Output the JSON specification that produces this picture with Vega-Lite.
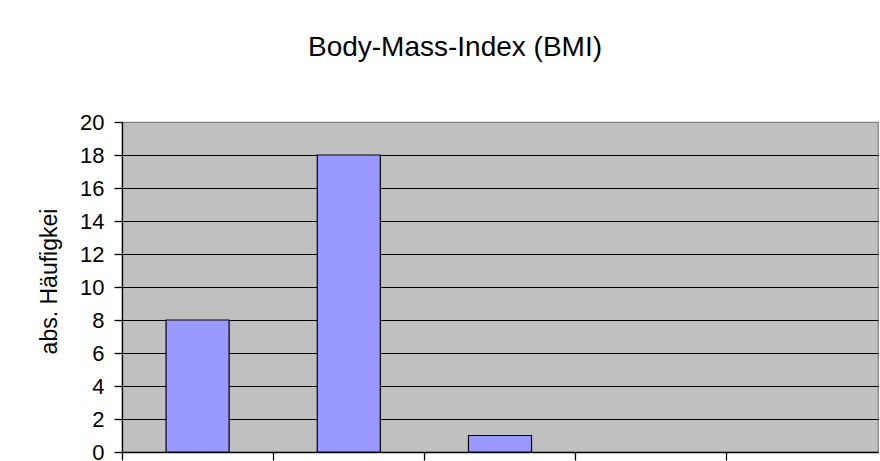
{
  "$schema": "https://vega.github.io/schema/vega-lite/v6.json",
  "width": 756,
  "height": 330,
  "autosize": {"type": "none"},
  "padding": {"left": 122, "top": 122, "right": 2, "bottom": 9},
  "background": "white",
  "title": {
    "text": "Body-Mass-Index (BMI)",
    "font": "Liberation Sans",
    "fontSize": 28,
    "fontWeight": "normal",
    "color": "black",
    "anchor": "middle",
    "dx": -45,
    "offset": 27,
    "baseline": "alphabetic"
  },
  "data": {
    "values": [
      {"klasse": "Untergewicht", "anzahl": 8},
      {"klasse": "Normalgewicht", "anzahl": 18},
      {"klasse": "Übergewicht", "anzahl": 1},
      {"klasse": "Adipositas", "anzahl": 0},
      {"klasse": "starke Adipositas", "anzahl": 0}
    ]
  },
  "mark": {"type": "bar", "fill": "#9999FF", "stroke": "black", "strokeWidth": 1.2, "width": {"band": 0.417}},
  "encoding": {
    "x": {
      "field": "klasse",
      "type": "nominal",
      "sort": null,
      "scale": {"paddingInner": 0, "paddingOuter": 0},
      "axis": {
        "title": null,
        "labels": false,
        "bandPosition": 0,
        "domainColor": "black",
        "domainWidth": 1.3,
        "tickColor": "black",
        "tickWidth": 1.3,
        "tickSize": 8,
        "grid": false
      }
    },
    "y": {
      "field": "anzahl",
      "type": "quantitative",
      "scale": {"domain": [0, 20], "nice": false},
      "axis": {
        "values": [0, 2, 4, 6, 8, 10, 12, 14, 16, 18, 20],
        "title": "abs. Häufigkei",
        "titleFont": "Liberation Sans",
        "titleFontSize": 23,
        "titleFontWeight": "normal",
        "titleColor": "black",
        "titleX": -73,
        "titleY": 159,
        "titleBaseline": "middle",
        "titleAngle": -90,
        "labelFont": "Liberation Sans",
        "labelFontSize": 22,
        "labelColor": "black",
        "labelPadding": 10,
        "domainColor": "black",
        "domainWidth": 1.3,
        "tickColor": "black",
        "tickWidth": 1.3,
        "tickSize": 8,
        "grid": true,
        "gridColor": {"condition": {"test": "datum.value == 20", "value": "#808080"}, "value": "black"},
        "gridWidth": 1.2,
        "gridOpacity": 1
      }
    },
    "strokeOpacity": {"condition": {"test": "datum.anzahl == 0", "value": 0}, "value": 1}
  },
  "config": {"view": {"fill": "#C0C0C0", "stroke": "#808080", "strokeWidth": 1.2}}
}
